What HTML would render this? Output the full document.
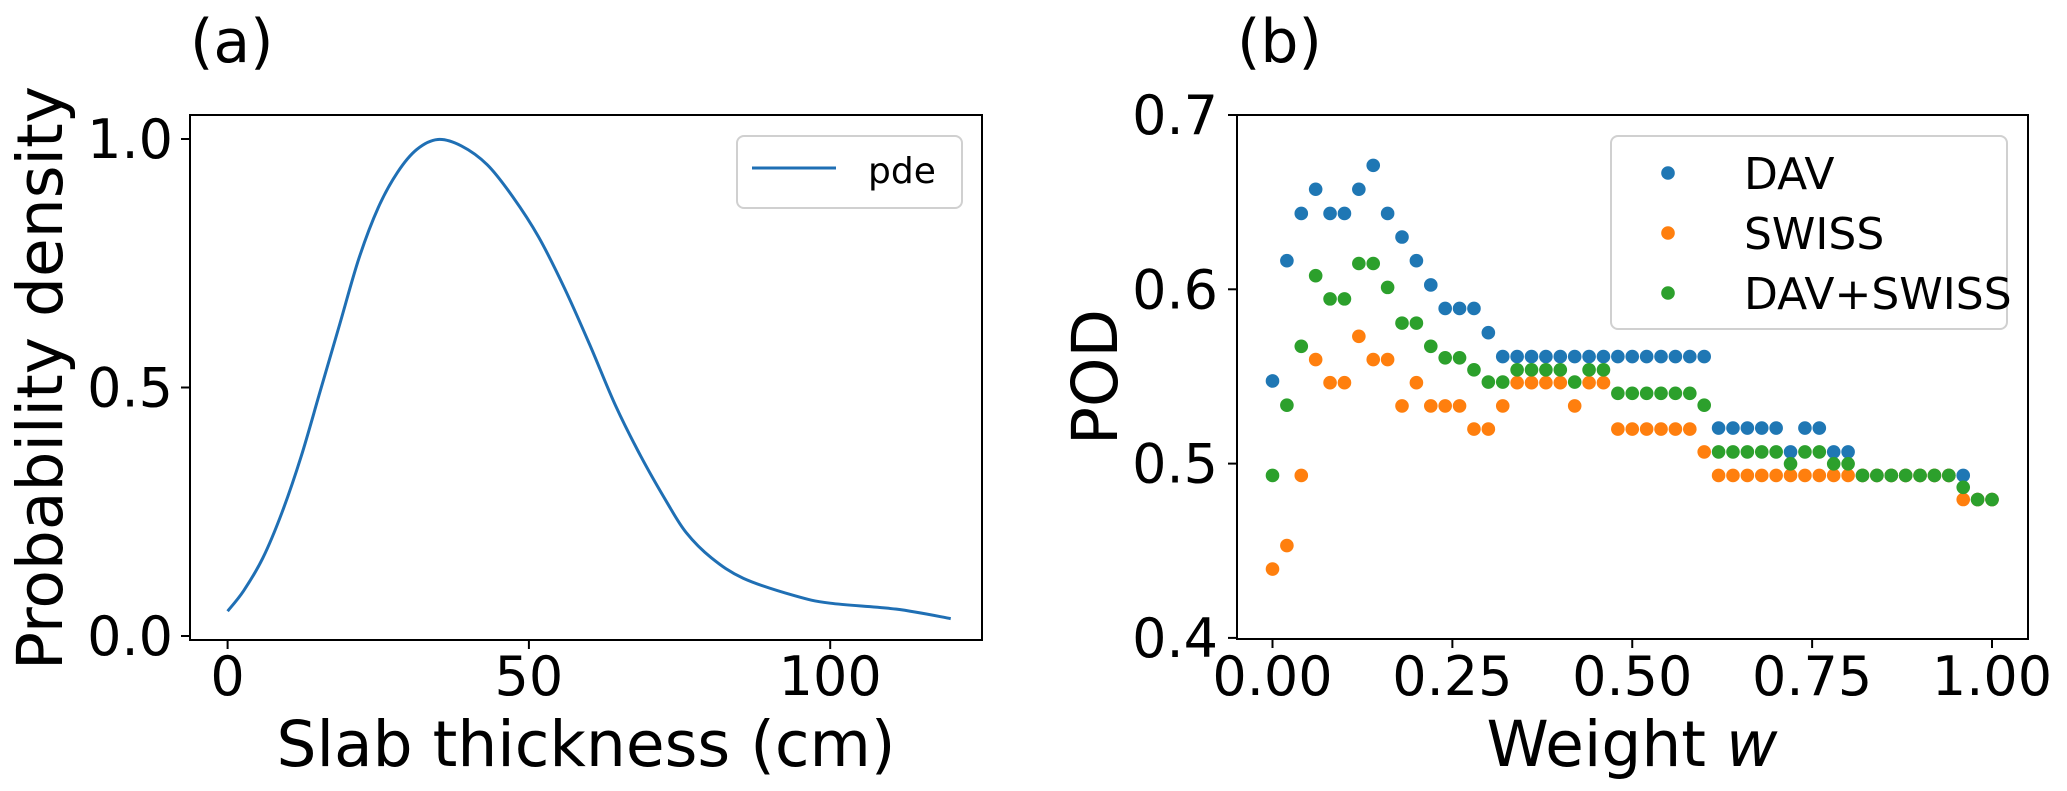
<!DOCTYPE html>
<html><head><meta charset="utf-8"><style>
html,body{margin:0;padding:0;background:#fff;}
svg{display:block;font-family:"DejaVu Sans","Liberation Sans",sans-serif;}
</style></head><body>
<svg id="fig" width="2067" height="791" viewBox="0 0 2067 791" xmlns="http://www.w3.org/2000/svg">
<rect width="2067" height="791" fill="#fff"/>
<g id="left"></g>
<g id="right"></g>
</svg>
<script>
// ---- Panel (a) data ----
const pdeX = [0,2.66,5.85,9.04,12.2,15.4,18.6,21.8,25.0,28.2,31.4,34.9,38.8,43.1,47.3,51.6,55.9,60.1,64.4,68.6,72.9,76.1,80.3,85.6,94.1,100,111,120];
const pdeY = [0.050,0.091,0.157,0.249,0.361,0.494,0.627,0.760,0.862,0.933,0.979,0.999,0.986,0.948,0.884,0.803,0.700,0.586,0.463,0.361,0.269,0.208,0.157,0.116,0.081,0.066,0.054,0.035];
const aXTicks = [0,50,100];
const aXTickLabels = ["0","50","100"];
const aYTicks = [0,0.5,1.0];
const aYTickLabels = ["0.0","0.5","1.0"];
// ---- Panel (b) data ----
const weights = [0,0.02,0.04,0.06,0.08,0.10,0.12,0.14,0.16,0.18,0.20,0.22,0.24,0.26,0.28,0.30,0.32,0.34,0.36,0.38,0.40,0.42,0.44,0.46,0.48,0.50,0.52,0.54,0.56,0.58,0.60,0.62,0.64,0.66,0.68,0.70,0.72,0.74,0.76,0.78,0.80,0.82,0.84,0.86,0.88,0.90,0.92,0.94,0.96,0.98,1.00];
const davPOD = [0.5474,0.6164,0.6435,0.6574,0.6435,0.6435,0.6574,0.6711,0.6435,0.6300,0.6164,0.6025,0.5890,0.5890,0.5890,0.5751,0.5614,0.5614,0.5614,0.5614,0.5614,0.5614,0.5614,0.5614,0.5614,0.5614,0.5614,0.5614,0.5614,0.5614,0.5614,0.5204,0.5204,0.5204,0.5204,0.5204,0.5067,0.5204,0.5204,0.5067,0.5067,0.4932,0.4932,0.4932,0.4932,0.4932,0.4932,0.4932,0.4932,0.4794,0.4794];
const swissPOD = [0.4395,0.4530,0.4932,0.5597,0.5464,0.5464,0.5730,0.5597,0.5597,0.5331,0.5464,0.5331,0.5331,0.5331,0.5198,0.5198,0.5331,0.5464,0.5464,0.5464,0.5464,0.5331,0.5464,0.5464,0.5198,0.5198,0.5198,0.5198,0.5198,0.5198,0.5067,0.4932,0.4932,0.4932,0.4932,0.4932,0.4932,0.4932,0.4932,0.4932,0.4932,0.4932,0.4932,0.4932,0.4932,0.4932,0.4932,0.4932,0.4794,0.4794,0.4794];
const comboPOD = [0.4932,0.5335,0.5673,0.6078,0.5945,0.5945,0.6148,0.6148,0.6011,0.5806,0.5806,0.5673,0.5607,0.5607,0.5538,0.5468,0.5468,0.5538,0.5538,0.5538,0.5538,0.5468,0.5538,0.5538,0.5403,0.5403,0.5403,0.5403,0.5403,0.5403,0.5335,0.5067,0.5067,0.5067,0.5067,0.5067,0.4999,0.5067,0.5067,0.4999,0.4999,0.4932,0.4932,0.4932,0.4932,0.4932,0.4932,0.4932,0.4864,0.4794,0.4794];
const bXTicks = [0,0.25,0.5,0.75,1.0];
const bXTickLabels = ["0.00","0.25","0.50","0.75","1.00"];
const bYTicks = [0.4,0.5,0.6,0.7];
const bYTickLabels = ["0.4","0.5","0.6","0.7"];
const seriesNames = ["DAV","SWISS","DAV+SWISS"];

const NS="http://www.w3.org/2000/svg";
function mk(tag, parent, attrs){const e=document.createElementNS(NS,tag);for(const k in attrs)e.setAttribute(k,attrs[k]);parent.appendChild(e);return e;}

// ---- Panel (a) ----
const L=document.getElementById('left');
const ax=v=>227.6+v*6.026;
const ay=v=>636-v*497;
let pts=pdeX.map((x,i)=>[ax(x),ay(pdeY[i])]);
let d=`M${pts[0][0]},${pts[0][1]}`;
for(let i=0;i<pts.length-1;i++){const p0=pts[Math.max(0,i-1)],p1=pts[i],p2=pts[i+1],p3=pts[Math.min(pts.length-1,i+2)];
d+=` C${p1[0]+(p2[0]-p0[0])/6},${p1[1]+(p2[1]-p0[1])/6} ${p2[0]-(p3[0]-p1[0])/6},${p2[1]-(p3[1]-p1[1])/6} ${p2[0]},${p2[1]}`;}
const line=mk('path',L,{d:d,fill:'none',stroke:'#1f6fb4','stroke-width':3});


const frameA=mk('rect',L,{x:190,y:115,width:792,height:525,fill:'none',stroke:'#000','stroke-width':2});


aXTicks.forEach((t,i)=>{mk('line',L,{x1:ax(t),x2:ax(t),y1:640,y2:649,stroke:'#000','stroke-width':2});
const tx=mk('text',L,{x:ax(t),y:695,'font-size':54,'text-anchor':'middle'});tx.textContent=aXTickLabels[i];

});
aYTicks.forEach((t,i)=>{mk('line',L,{x1:181,x2:190,y1:ay(t),y2:ay(t),stroke:'#000','stroke-width':2});
const tx=mk('text',L,{x:173,y:ay(t)+19,'font-size':54,'text-anchor':'end'});tx.textContent=aYTickLabels[i];

});
const xlA=mk('text',L,{x:586,y:766,'font-size':63,'text-anchor':'middle'});xlA.textContent='Slab thickness (cm)';


const ylA=mk('text',L,{x:0,y:0,'font-size':63,'text-anchor':'middle',transform:'translate(62,378) rotate(-90)'});ylA.textContent='Probability density';


const ta=mk('text',L,{x:190,y:62,'font-size':60});ta.textContent='(a)';


const legA=mk('g',L,{});


mk('rect',legA,{x:737,y:136,width:225,height:72,rx:7,fill:'#fff',stroke:'#d0d0d0','stroke-width':2});
mk('line',legA,{x1:752,x2:836,y1:168,y2:168,stroke:'#1f6fb4','stroke-width':3});
const lt=mk('text',legA,{x:868,y:183,'font-size':36});lt.textContent='pde';



// ---- Panel (b) ----
const R=document.getElementById('right');
const bx=v=>1272.5+v*719.5;
const by=v=>115+(0.7-v)*1743;
const colors=['#1f77b4','#ff7f0e','#2ca02c'];
[davPOD,swissPOD,comboPOD].forEach((ser,si)=>{
 const g=mk('g',R,{});
 
 
 ser.forEach((v,i)=>{const c=mk('circle',g,{cx:bx(weights[i]),cy:by(v),r:6.8,fill:colors[si]});
 
 });
});
const frameB=mk('rect',R,{x:1237,y:115,width:791,height:524,fill:'none',stroke:'#000','stroke-width':2});


bXTicks.forEach((t,i)=>{mk('line',R,{x1:bx(t),x2:bx(t),y1:639,y2:648,stroke:'#000','stroke-width':2});
const tx=mk('text',R,{x:bx(t),y:695,'font-size':54,'text-anchor':'middle'});tx.textContent=bXTickLabels[i];

});
bYTicks.forEach((t,i)=>{mk('line',R,{x1:1228,x2:1237,y1:by(t),y2:by(t),stroke:'#000','stroke-width':2});
const tx=mk('text',R,{x:1218,y:by(t)+19,'font-size':54,'text-anchor':'end'});tx.textContent=bYTickLabels[i];

});
const xlB=mk('text',R,{x:1632,y:766,'font-size':63,'text-anchor':'middle'});
xlB.innerHTML='Weight <tspan font-style="italic">w</tspan>';


const ylB=mk('text',R,{x:0,y:0,'font-size':63,'text-anchor':'middle',transform:'translate(1117,377) rotate(-90)'});ylB.textContent='POD';


const tb=mk('text',R,{x:1237,y:62,'font-size':60});tb.textContent='(b)';


const legB=mk('g',R,{});


mk('rect',legB,{x:1611,y:136,width:396,height:193,rx:7,fill:'#fff',stroke:'#d0d0d0','stroke-width':2});
seriesNames.forEach((n,i)=>{const yy=173+i*60;
mk('circle',legB,{cx:1668,cy:yy,r:6.8,fill:colors[i]});
const t=mk('text',legB,{x:1744,y:yy+16,'font-size':44});t.textContent=n;

});
</script>
</body></html>
